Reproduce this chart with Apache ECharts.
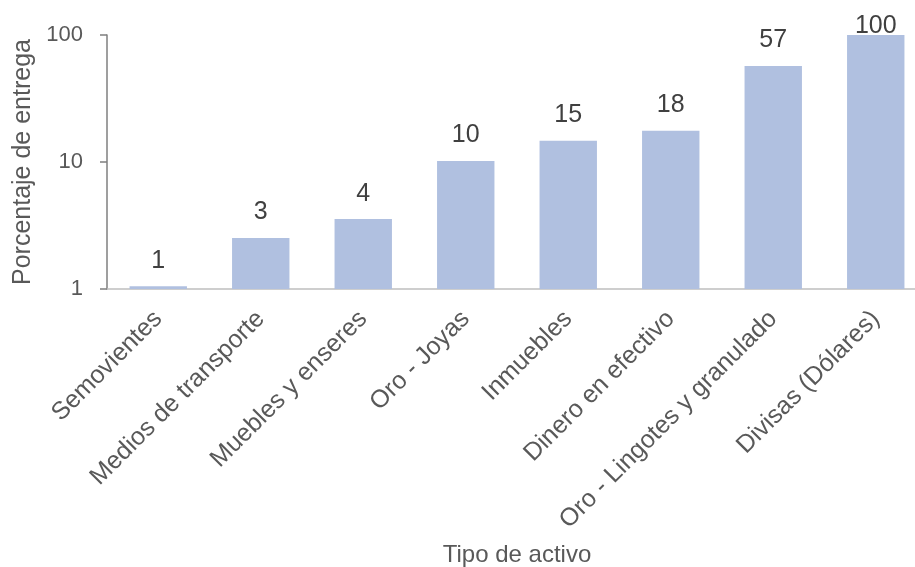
<!DOCTYPE html>
<html>
<head>
<meta charset="utf-8">
<script src="https://cdn.jsdelivr.net/npm/echarts@6/dist/echarts.min.js"></script>
<style>
  html, body { margin: 0; padding: 0; background: #fff; }
  #chart { width: 915px; height: 567px; }
</style>
</head>
<body>
<div id="chart"></div>
<script>
// categorias y porcentaje de entrega (escala log)
var categories = ['Semovientes', 'Medios de transporte', 'Muebles y enseres', 'Oro - Joyas',
  'Inmuebles', 'Dinero en efectivo', 'Oro - Lingotes y granulado', 'Divisas (Dólares)'];
var values = [1.05, 2.52, 3.55, 10.2, 14.7, 17.6, 57, 100];
var yTicks = [1, 10, 100];

var textColor = '#595959';
var font = 'Liberation Sans, Arial, sans-serif';

var barData = values.map(function (v) {
  // la etiqueta del maximo queda pegada a la barra (recortada al area)
  if (v >= yTicks[yTicks.length - 1]) {
    return { value: v, label: { distance: -4 } };
  }
  return v;
});

var chart = echarts.init(document.getElementById('chart'));
chart.setOption({
  animation: false,
  // el eje x sigue un poco fuera del lienzo por la derecha
  grid: { left: 107, top: 35, width: 820, height: 254, outerBoundsMode: 'none' },
  xAxis: {
    type: 'category',
    data: categories,
    name: 'Tipo de activo',
    nameLocation: 'middle',
    nameGap: 254,
    nameTextStyle: { color: textColor, fontSize: 24, fontFamily: font },
    axisLine: { lineStyle: { color: '#bfbfbf', width: 1.5 } },
    axisTick: { show: false },
    axisLabel: {
      rotate: 45, interval: 0, color: textColor, fontSize: 25, fontFamily: font,
      margin: 26
    }
  },
  yAxis: {
    type: 'log',
    logBase: 10,
    min: yTicks[0],
    max: yTicks[yTicks.length - 1],
    name: 'Porcentaje de entrega',
    nameLocation: 'middle',
    nameGap: 68,
    nameTextStyle: { color: textColor, fontSize: 25, fontFamily: font },
    axisLine: { show: true, lineStyle: { color: '#7f7f7f', width: 1.5 } },
    axisTick: { show: true, length: 7, lineStyle: { color: '#7f7f7f', width: 1.5 } },
    splitLine: { show: false },
    axisLabel: { color: textColor, fontSize: 22, fontFamily: font, margin: 24 }
  },
  series: [{
    type: 'bar',
    data: barData,
    barWidth: '56%',
    itemStyle: { color: '#b0c0e0' },
    label: {
      show: true,
      position: 'top',
      distance: 13,
      color: '#404040',
      fontSize: 25,
      fontFamily: font,
      formatter: function (p) { return Math.round(p.value); }
    }
  }]
});
</script>
</body>
</html>
